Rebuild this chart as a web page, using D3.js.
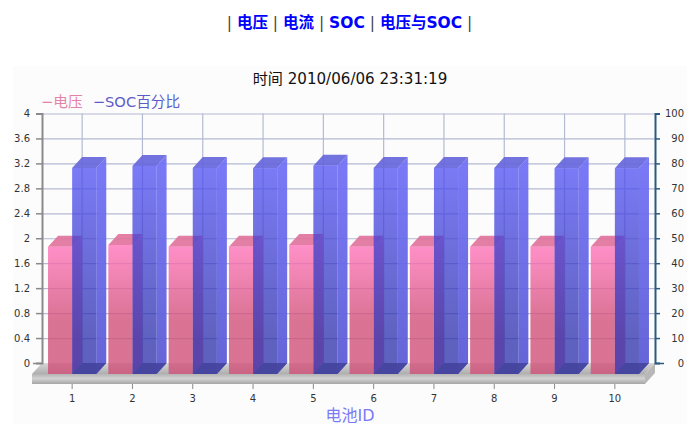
<!DOCTYPE html>
<html>
<head>
<meta charset="utf-8">
<title>电压与SOC</title>
<script src="https://cdn.jsdelivr.net/npm/d3@7"></script>
<style>
    html, body { margin: 0; padding: 0; background: #fff; overflow: hidden; }
    svg { display: block; }
    text { font-family: "DejaVu Sans", "Noto Sans CJK SC", sans-serif; }
</style>
</head>
<body>
<div id="chart"></div>
<script>
var batteryIds = [1, 2, 3, 4, 5, 6, 7, 8, 9, 10];
var voltage = [2.04, 2.07, 2.04, 2.04, 2.07, 2.04, 2.04, 2.04, 2.04, 2.04];
var soc = [82.6, 83.4, 82.6, 82.5, 83.5, 82.6, 82.6, 82.6, 82.5, 82.5];
var voltageTicks = [0, 0.4, 0.8, 1.2, 1.6, 2, 2.4, 2.8, 3.2, 3.6, 4];
var socTicks = [0, 10, 20, 30, 40, 50, 60, 70, 80, 90, 100];
var navItems = ["电压", "电流", "SOC", "电压与SOC"];
var seriesNames = ["电压", "SOC百分比"];

var width = 695, height = 424;
var plot = {left: 42, right: 655, top: 113.5, bottom: 363};
var depth = {x: 10, y: 11};

var svg = d3.select("#chart").append("svg")
    .attr("width", width)
    .attr("height", height);

var defs = svg.append("defs");

function addGradient(id, y1, y2, stops) {
    var g = defs.append("linearGradient")
        .attr("id", id)
        .attr("gradientUnits", "userSpaceOnUse")
        .attr("x1", 0).attr("x2", 0)
        .attr("y1", y1).attr("y2", y2);
    stops.forEach(function(s) {
        g.append("stop").attr("offset", s[0]).attr("stop-color", s[1]);
    });
}

addGradient("pinkFront", 246, 320, [[0, "#ff74ba"], [1, "#d15179"]]);
addGradient("blueFront", 167, 340, [[0, "#4f4ff4"], [1, "#2b2daa"]]);
addGradient("blueSide", 157, 363, [[0, "#7272f8"], [1, "#5c5cd6"]]);
addGradient("slabFront", 374, 384, [[0, "#b4b4b4"], [0.45, "#d2d2d2"], [1, "#a6a6a6"]]);
addGradient("slabTop", 363, 374, [[0, "#d8d8d8"], [1, "#aeaeae"]]);

// panel behind the chart
svg.append("rect")
    .attr("x", 13).attr("y", 66)
    .attr("width", 674).attr("height", 358)
    .attr("fill", "#fcfcfd");

// nav links
var nav = svg.append("text")
    .attr("x", 349.5).attr("y", 28)
    .attr("text-anchor", "middle")
    .attr("font-size", 15.5);
nav.append("tspan").attr("fill", "#444").text("| ");
navItems.forEach(function(d) {
    nav.append("tspan").attr("fill", "#0000ff").attr("font-weight", "bold").text(d);
    nav.append("tspan").attr("fill", "#444").text(" | ");
});

svg.append("text")
    .attr("x", 350).attr("y", 84)
    .attr("text-anchor", "middle")
    .attr("font-size", 15.1)
    .attr("fill", "#111")
    .text("时间 2010/06/06 23:31:19");

// legend
var legend = svg.append("text")
    .attr("x", 41).attr("y", 107)
    .attr("font-size", 14.7);
legend.append("tspan").attr("fill", "#e583a6").text("−" + seriesNames[0]);
legend.append("tspan").attr("fill", "#5c5cc8").attr("dx", 10).text("−" + seriesNames[1]);

var yVolt = d3.scaleLinear().domain([0, 4]).range([plot.bottom, plot.top]);
var ySoc = d3.scaleLinear().domain([0, 100]).range([plot.bottom, plot.top]);
var x0 = d3.scaleBand().domain(batteryIds)
    .range([plot.left, plot.right - depth.x])
    .paddingInner(0.2).paddingOuter(0.1);
var x1 = d3.scaleBand().domain(seriesNames).range([0, x0.bandwidth()]);

// back wall grid
var grid = svg.append("g");
grid.selectAll(".h").data(voltageTicks).enter().append("line")
    .attr("x1", plot.left).attr("x2", plot.right)
    .attr("y1", function(d) { return yVolt(d) + 0.5; })
    .attr("y2", function(d) { return yVolt(d) + 0.5; })
    .attr("stroke", "#b4bad2").attr("stroke-width", 1.2);
grid.selectAll(".v").data(batteryIds).enter().append("line")
    .attr("x1", function(d) { return x0(d) + x0.bandwidth() / 2 + depth.x; })
    .attr("x2", function(d) { return x0(d) + x0.bandwidth() / 2 + depth.x; })
    .attr("y1", plot.top).attr("y2", plot.bottom)
    .attr("stroke", "#b4bad2").attr("stroke-width", 1.2);

// floor slab
var fl = plot.left - depth.x, fr = plot.right - depth.x, fy = plot.bottom + depth.y, fb = fy + 10;
function pts(a) { return a.map(function(p) { return p.join(","); }).join(" "); }
svg.append("polygon")
    .attr("points", pts([[fl, fy], [fr, fy], [plot.right, plot.bottom], [plot.left, plot.bottom]]))
    .attr("fill", "url(#slabTop)");
svg.append("polygon")
    .attr("points", pts([[fr, fy], [plot.right, plot.bottom], [plot.right, plot.bottom + 10], [fr, fb]]))
    .attr("fill", "#b8b8b8");
svg.append("rect")
    .attr("x", fl).attr("y", fy)
    .attr("width", fr - fl).attr("height", fb - fy)
    .attr("fill", "url(#slabFront)");

// 3d box: x and y are the front face, back face is shifted by depth
function drawBox(g, x, w, yTop, c) {
    var yBase = plot.bottom + depth.y;
    var dx = depth.x, dy = depth.y;
    // right
    g.append("polygon")
        .attr("points", pts([[x + w, yTop], [x + w + dx, yTop - dy], [x + w + dx, yBase - dy], [x + w, yBase]]))
        .attr("fill", c.side).attr("fill-opacity", c.sideOpacity);
    // top
    g.append("polygon")
        .attr("points", pts([[x, yTop], [x + w, yTop], [x + w + dx, yTop - dy], [x + dx, yTop - dy]]))
        .attr("fill", c.top).attr("fill-opacity", 0.9);
    // front
    g.append("rect")
        .attr("x", x).attr("y", yTop)
        .attr("width", w).attr("height", yBase - yTop)
        .attr("fill", c.front).attr("fill-opacity", c.frontOpacity);
    // floor
    if (c.floor) {
        g.append("polygon")
            .attr("points", pts([[x, yBase], [x + w, yBase], [x + w + dx, yBase - dy], [x + dx, yBase - dy]]))
            .attr("fill", c.floor).attr("fill-opacity", 0.9);
    }
}

var pinkStyle = {side: "#e87fa5", sideOpacity: 0.9, top: "#e0709a",
    front: "url(#pinkFront)", frontOpacity: 0.8};
var blueStyle = {floor: "#45459f", side: "url(#blueSide)", sideOpacity: 0.94, top: "#6464dc",
    front: "url(#blueFront)", frontOpacity: 0.75};

var bars = svg.append("g");
batteryIds.forEach(function(id, i) {
    var w = x1.bandwidth();
    drawBox(bars, x0(id) + x1(seriesNames[0]), w, yVolt(voltage[i]) + depth.y, pinkStyle);
    drawBox(bars, x0(id) + x1(seriesNames[1]), w, ySoc(soc[i]) + depth.y, blueStyle);
});

// axes
var leftAxis = svg.append("g")
    .attr("transform", "translate(" + plot.left + ",0)")
    .call(d3.axisLeft(yVolt).tickValues(voltageTicks).tickFormat(d3.format("~g")).tickSize(6).tickPadding(6));
leftAxis.select(".domain").attr("stroke", "#8a8a8a").attr("stroke-width", 2);
leftAxis.selectAll(".tick line").attr("stroke", "#8a8a8a").attr("stroke-width", 1.5)
    .attr("x2", function(d) { return d === 0 ? -9 : -6; });

var rightAxis = svg.append("g")
    .attr("transform", "translate(" + plot.right + ",0)")
    .call(d3.axisRight(ySoc).tickValues(socTicks).tickSize(5).tickPadding(12));
rightAxis.select(".domain").attr("stroke", "#2b5a80").attr("stroke-width", 2);
rightAxis.selectAll(".tick line").attr("stroke", "#2b5a80").attr("stroke-width", 1.5)
    .attr("x2", function(d) { return d === 0 ? 9 : 5; });
rightAxis.selectAll(".tick text").attr("text-anchor", "end").attr("x", 29);

var bottomAxis = svg.append("g")
    .attr("transform", "translate(0," + fb + ")")
    .call(d3.axisBottom(x0).tickSize(5).tickPadding(6));
bottomAxis.select(".domain").remove();
bottomAxis.selectAll(".tick line").attr("stroke", "#8a8a8a");

[leftAxis, rightAxis, bottomAxis].forEach(function(a) {
    a.selectAll(".tick text").attr("font-size", 10).attr("fill", "#333")
        .attr("font-family", "'DejaVu Sans', sans-serif");
});

svg.append("text")
    .attr("x", 350).attr("y", 421)
    .attr("text-anchor", "middle")
    .attr("font-size", 16)
    .attr("fill", "#7b7bf5")
    .text("电池ID");
</script>
</body>
</html>
